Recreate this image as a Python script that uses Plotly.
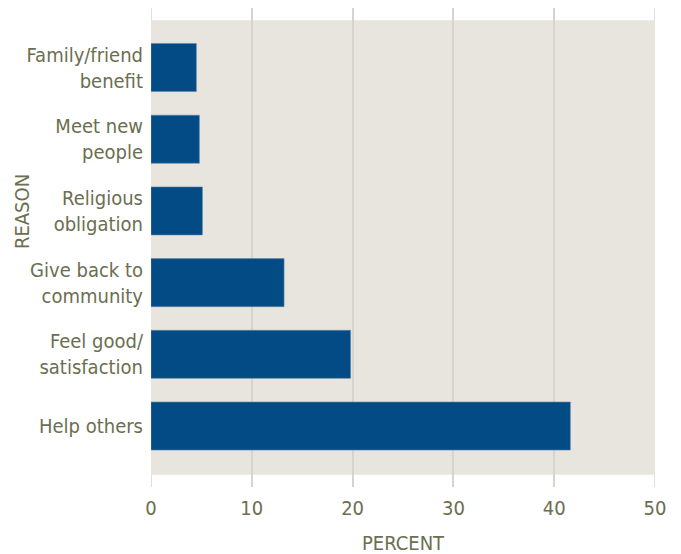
import plotly.graph_objects as go

categories = ["Help others", "Feel good/<br>satisfaction", "Give back to<br>community",
              "Religious<br>obligation", "Meet new<br>people", "Family/friend<br>benefit"]
percent = [41.6, 19.8, 13.2, 5.1, 4.8, 4.5]
x_ticks = [0, 10, 20, 30, 40, 50]

text_color = "#6b6e50"
grid_color = "#d7d4cc"
font_family = "DejaVu Sans Condensed, Liberation Sans Narrow, sans-serif"

fig = go.Figure()
fig.add_trace(go.Bar(
    y=list(range(len(categories))),
    x=percent,
    orientation="h",
    marker=dict(color="#024b84", line=dict(color="#5f86ad", width=0.6)),
    width=0.67,
    hoverinfo="x",
))

fig.add_shape(type="rect", xref="x", yref="y", x0=x_ticks[0], x1=x_ticks[-1], y0=-0.68, y1=5.66,
              fillcolor="#e8e5df", line=dict(width=0), layer="below")
for xv in (x_ticks[0], x_ticks[-1]):
    fig.add_shape(type="line", xref="x", yref="paper", x0=xv, x1=xv, y0=0, y1=1,
                  line=dict(color=grid_color, width=1.5), layer="below")

fig.add_annotation(text="PERCENT", xref="paper", yref="paper", x=0.5, y=-0.117,
                   xanchor="center", yanchor="middle", showarrow=False,
                   font=dict(size=20, color=text_color, family=font_family))
fig.add_annotation(text="REASON", xref="paper", yref="paper", x=-0.256, y=0.576,
                   xanchor="center", yanchor="middle", showarrow=False, textangle=-90,
                   font=dict(size=20, color=text_color, family=font_family))

fig.update_layout(
    width=681, height=554,
    margin=dict(l=143, r=34, t=0, b=75),
    paper_bgcolor="white",
    plot_bgcolor="rgba(0,0,0,0)",
    showlegend=False,
    font=dict(family=font_family, color=text_color, size=20),
    xaxis=dict(
        range=[0, 50], tickvals=x_ticks, ticktext=[str(v) for v in x_ticks],
        showgrid=True, gridcolor=grid_color, gridwidth=1.5,
        zeroline=False, showline=False, automargin=False,
        ticks="outside", ticklen=3, tickcolor="rgba(0,0,0,0)",
        tickfont=dict(size=20),
        fixedrange=True,
    ),
    yaxis=dict(
        range=[-0.85, 5.83],
        tickvals=list(range(len(categories))), ticktext=categories,
        showgrid=False, zeroline=False, showline=False, automargin=False,
        ticks="outside", ticklen=3, tickcolor="rgba(0,0,0,0)",
        tickfont=dict(size=20),
        fixedrange=True,
    ),
)

fig.write_html("out.html")
